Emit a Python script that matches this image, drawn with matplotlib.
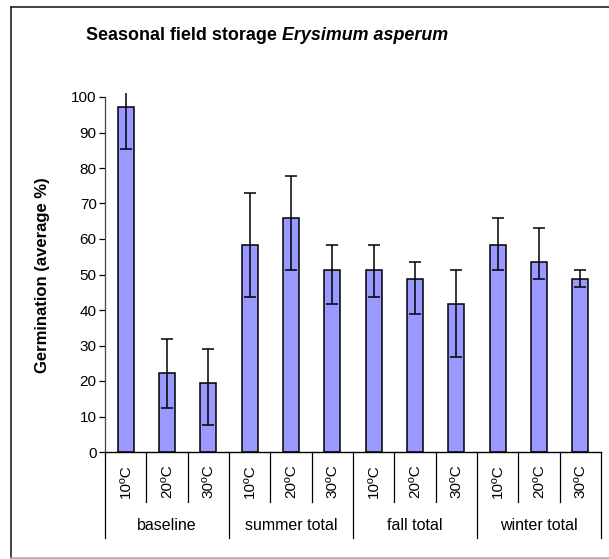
import matplotlib
matplotlib.use("Agg")
import matplotlib.pyplot as plt
import matplotlib.transforms as mtransforms
from matplotlib.lines import Line2D
import numpy as np

plt.rcParams['font.family'] = ['Liberation Sans', 'DejaVu Sans']

groups = ["baseline", "summer total", "fall total", "winter total"]
temps = ["10ºC", "20ºC", "30ºC"]
means = [97.3, 22.2, 19.5, 58.4, 66.0, 51.3, 51.3, 48.6, 41.6, 58.4, 53.5, 48.6]
err_low = [12.0, 9.9, 12.0, 14.7, 14.7, 9.7, 7.6, 9.7, 14.8, 7.1, 4.9, 2.0]
err_high = [12.0, 9.6, 9.6, 14.6, 11.8, 7.1, 7.1, 4.9, 9.7, 7.6, 9.7, 2.7]

W, H = 609, 559
fig = plt.figure(figsize=(W / 100, H / 100), dpi=100)
ax = fig.add_axes([105 / W, 1 - 452 / H, (601 - 105) / W, (452 - 93.45) / H])

n = len(means)
x = np.arange(n)
ax.bar(x, means, width=0.39, color="#9999FF", edgecolor="black", linewidth=1.1, zorder=2)
ax.errorbar(x, means, yerr=[err_low, err_high], fmt="none", ecolor="black",
            elinewidth=1.1, capsize=4, capthick=1.1, zorder=3)

ax.set_xlim(-0.5, n - 0.5)
ax.set_ylim(0, 101)
ax.set_yticks(np.arange(0, 101, 10))
ax.tick_params(axis="y", direction="out", length=4, width=0.9, labelsize=11, pad=2)
for s in ["top", "right"]:
    ax.spines[s].set_visible(False)
ax.spines["left"].set_bounds(0, 100)
ax.spines["left"].set_linewidth(0.9)
ax.spines["left"].set_color("#444444")
ax.spines["bottom"].set_linewidth(1.0)

ax.set_xticks(x)
ax.set_xticklabels(temps * len(groups), rotation=90, fontsize=11)
ax.tick_params(axis="x", length=0, pad=9)

trans = mtransforms.blended_transform_factory(ax.transData, ax.transAxes)
axh = 452 - 93.45
# temperature separators
for i in range(n + 1):
    xb = i - 0.5
    if i % 3 == 0:
        y_end = -(538 - 452) / axh
    else:
        y_end = -(502 - 452) / axh
    ax.add_line(Line2D([xb, xb], [0, y_end], transform=trans, color="black",
                       linewidth=0.9, clip_on=False))
# group labels
for g, name in enumerate(groups):
    ax.text(g * 3 + 1, -(525 - 452) / axh, name, transform=trans,
            ha="center", va="center", fontsize=11.5)

# y label
fig.text(43 / W, 1 - 275 / H, "Germination (average %)", rotation=90,
         ha="center", va="center", fontsize=12, fontweight="bold")

# title (bold + bold italic)
t1 = fig.text(86 / W, 1 - 35 / H, "Seasonal field storage", ha="left", va="center",
              fontsize=12.9, fontweight="bold")
fig.canvas.draw()
ax.annotate("Erysimum asperum", xy=(1, 0.5), xycoords=t1, xytext=(3.8, 0),
            textcoords="offset points", ha="left", va="center",
            fontsize=12.9, fontweight="bold", fontstyle="italic")

# chart frame
fig.add_artist(Line2D([11 / W, 1], [1 - 7 / H, 1 - 7 / H], transform=fig.transFigure,
                      color="#222222", linewidth=1.2))
fig.add_artist(Line2D([11 / W, 11 / W], [1 - 7 / H, 1 - 558 / H], transform=fig.transFigure,
                      color="#222222", linewidth=1.2))
fig.add_artist(Line2D([11 / W, 1], [1 - 558 / H, 1 - 558 / H], transform=fig.transFigure,
                      color="#aaaaaa", linewidth=1.2))

fig.savefig("out.png", dpi=100)
